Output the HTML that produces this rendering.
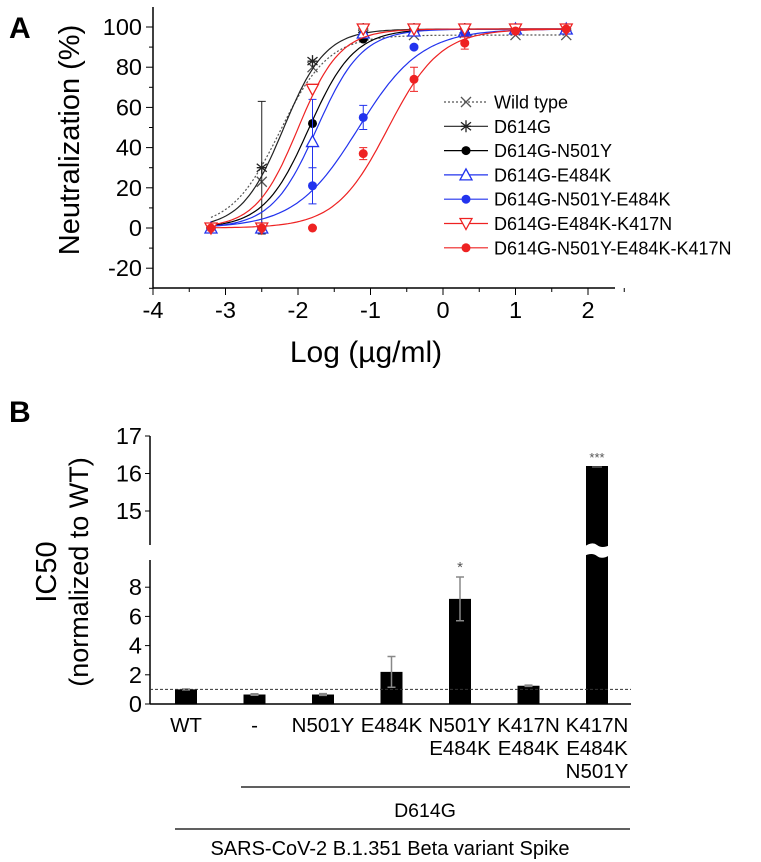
<!DOCTYPE html>
<html><head><meta charset="utf-8"><style>
body{margin:0;background:#fff;}
svg{display:block;font-family:"Liberation Sans",Arial,sans-serif;}
</style></head><body>
<svg id="c" width="761" height="862" viewBox="0 0 761 862"></svg>
<script>
const NS="http://www.w3.org/2000/svg";
const svg=document.getElementById('c');
// ---- Panel A data ----
const xDoses=[-3.2,-2.5,-1.8,-1.1,-0.4,0.3,1,1.7];
const seriesNames=["Wild type","D614G","D614G-N501Y","D614G-E484K","D614G-N501Y-E484K","D614G-E484K-K417N","D614G-N501Y-E484K-K417N"];
const wtVals=[0,23,80,96,96,97,96,96];
const d614gVals=[0,30,83,99,99,99,99,99];
const n501yVals=[0,0,52,94,99,99,99,99];
const e484kVals=[0,0,43,97,98,98,99,99];
const n501yE484kVals=[0,0,21,55,90,97,98,99];
const e484kK417nVals=[0,0,69,99,99,99,99,99];
const tripleVals=[0,0,0,37,74,92,98,99];
const errA=[[1,1,33],[3,2,21],[4,2,9],[4,3,6],[6,3,3],[6,4,6],[6,5,3]];
const fitEC50=[-2.25,-2.2,-1.85,-1.74,-1.17,-2.0,-0.76];
const fitHill=[1.3,1.5,1.4,1.4,1.0,1.5,1.2];
const fitTop=[96,99,99,99,99,99,99];
const xTicksA=[-4,-3,-2,-1,0,1,2];
const yTicksA=[-20,0,20,40,60,80,100];
// ---- Panel B data ----
const barCats=[["WT"],["-"],["N501Y"],["E484K"],["N501Y","E484K"],["K417N","E484K"],["K417N","E484K","N501Y"]];
const barVals=[1.0,0.65,0.65,2.2,7.2,1.25,16.2];
const barErr=[0.03,0.05,0.06,1.05,1.5,0.04,0.02];
const barStars=["","","","","*","","***"];
const yTicksBLow=[0,2,4,6,8];
const yTicksBHigh=[15,16,17];

const vals=[wtVals,d614gVals,n501yVals,e484kVals,n501yE484kVals,e484kK417nVals,tripleVals];
const colors=["#555","#222","#000","#2233ee","#2233ee","#ee2222","#ee2222"];
function el(t,a,p){const e=document.createElementNS(NS,t);for(const k in a)e.setAttribute(k,a[k]);(p||svg).appendChild(e);return e;}
function tx(x,y,s,a,p){const e=el('text',Object.assign({x:x,y:y},a),p);e.textContent=s;return e;}
const ax=v=>153+(v+4)*72.5;
const ay=v=>228-v*2.01;
let g=el('g',{});


tx(9,38,"A",{'font-size':30,'font-weight':'bold'},g);
el('line',{x1:153,y1:7,x2:153,y2:288,stroke:'#000','stroke-width':1.5},g);
el('line',{x1:153,y1:288,x2:615,y2:288,stroke:'#000','stroke-width':1.5},g);
for(let v=-30;v<=110;v+=10){const y=ay(v);if(y<7)continue;el('line',{x1:v%20===0?146:149,y1:y,x2:153,y2:y,stroke:'#000'},g);}
yTicksA.forEach(v=>{const t=tx(142,ay(v)+8,String(v),{'font-size':23.5,'text-anchor':'end'},g);});
for(let v=-4;v<=2.51;v+=0.5){const x=ax(v);el('line',{x1:x,y1:288,x2:x,y2:Number.isInteger(v)?295:292,stroke:'#000'},g);}
xTicksA.forEach(v=>{const t=tx(ax(v),318,String(v),{'font-size':23.5,'text-anchor':'middle'},g);});
let yt=tx(0,0,"Neutralization (%)",{'font-size':29,'text-anchor':'middle',transform:'translate(79,140) rotate(-90)'},g);

let xt=tx(366,362,"Log (µg/ml)",{'font-size':30,'text-anchor':'middle'},g);

function marker(i,x,y,p){const c=colors[i];
 if(i===0){el('path',{d:`M${x-5} ${y-5}L${x+5} ${y+5}M${x-5} ${y+5}L${x+5} ${y-5}`,stroke:c,'stroke-width':1.3,fill:'none'},p);}
 else if(i===1){el('path',{d:`M${x-5} ${y-4}L${x+5} ${y+4}M${x-5} ${y+4}L${x+5} ${y-4}M${x} ${y-6}L${x} ${y+6}M${x-5} ${y}L${x+5} ${y}`,stroke:c,'stroke-width':1.3,fill:'none'},p);}
 else if(i===3){el('path',{d:`M${x} ${y-6}L${x+6} ${y+5}L${x-6} ${y+5}Z`,stroke:c,'stroke-width':1.3,fill:'#fff'},p);}
 else if(i===5){el('path',{d:`M${x} ${y+6}L${x+6} ${y-5}L${x-6} ${y-5}Z`,stroke:c,'stroke-width':1.3,fill:'#fff'},p);}
 else el('circle',{cx:x,cy:y,r:4.5,fill:c},p);}
vals.forEach((arr,i)=>{
 const sg=el('g',{},g);
 
 
 let d='';for(let k=0;k<=120;k++){const x=-3.2+k*(4.9/120);const y=fitTop[i]/(1+Math.pow(10,(fitEC50[i]-x)*fitHill[i]));d+=(k?'L':'M')+ax(x).toFixed(1)+' '+ay(y).toFixed(1);}
 el('path',{d:d,stroke:colors[i],'stroke-width':1.2,fill:'none','stroke-dasharray':i===0?'2,2':'none'},sg);
 errA.filter(e=>e[0]===i).forEach(e=>{const x=ax(xDoses[e[1]]),y1=ay(arr[e[1]]-e[2]),y2=ay(arr[e[1]]+e[2]);
  el('path',{d:`M${x} ${y1}L${x} ${y2}M${x-4} ${y1}L${x+4} ${y1}M${x-4} ${y2}L${x+4} ${y2}`,stroke:colors[i],'stroke-width':1},sg);});
 arr.forEach((v,k)=>marker(i,ax(xDoses[k]),ay(v),sg));
});
const lg=el('g',{},g);

seriesNames.forEach((n,i)=>{const y=102+i*24.3;
 const le=el('g',{},lg);
 
 el('line',{x1:444,y1:y,x2:488,y2:y,stroke:colors[i],'stroke-width':1.2,'stroke-dasharray':i===0?'2,2':'none'},le);
 marker(i,466,y,le);
 tx(494,y+6.5,n,{'font-size':18},le);});
// ---- Panel B ----
const gb=el('g',{});

tx(9,422,"B",{'font-size':30,'font-weight':'bold'},gb);
const byL=v=>704-v*14.6;
const byH=v=>436+(17-v)*37.5;
const bx=i=>186+i*68.5;
el('line',{x1:150,y1:436,x2:150,y2:545,stroke:'#000','stroke-width':1.5},gb);
el('line',{x1:150,y1:560,x2:150,y2:704,stroke:'#000','stroke-width':1.5},gb);
el('line',{x1:150,y1:704,x2:631,y2:704,stroke:'#000','stroke-width':1.5},gb);
yTicksBHigh.forEach(v=>{el('line',{x1:145,y1:byH(v),x2:150,y2:byH(v),stroke:'#000'},gb);const t=tx(142,byH(v)+8,String(v),{'font-size':23.5,'text-anchor':'end'},gb);});
yTicksBLow.forEach(v=>{el('line',{x1:145,y1:byL(v),x2:150,y2:byL(v),stroke:'#000'},gb);const t=tx(142,byL(v)+8,String(v),{'font-size':23.5,'text-anchor':'end'},gb);});
let bt=tx(0,0,"IC50",{'font-size':29,'text-anchor':'middle',transform:'translate(56,572) rotate(-90)'},gb);

let bt2=tx(0,0,"(normalized to WT)",{'font-size':27,'text-anchor':'middle',transform:'translate(88,572) rotate(-90)'},gb);

barVals.forEach((v,i)=>{const x=bx(i);
 const bg=el('g',{},gb);
 
 if(v>10){const top=byH(v);
  el('rect',{x:x-11,y:top,width:22,height:704-top,fill:'#000'},bg);
  el('path',{d:`M${x-13} 547 Q${x-5} 541 ${x} 545 T${x+13} 545 L${x+13} 555 Q${x+5} 560 ${x} 556 T${x-13} 556Z`,fill:'#fff'},bg);
  el('line',{x1:x-5,y1:top+1,x2:x+5,y2:top+1,stroke:'#888'},bg);
  tx(x,top-4,barStars[i],{'font-size':13,'text-anchor':'middle',fill:'#555'},bg);
 } else {const top=byL(v);
  el('rect',{x:x-11,y:top,width:22,height:704-top,fill:'#000'},bg);
  const y1=byL(v-barErr[i]),y2=byL(v+barErr[i]);
  el('path',{d:`M${x} ${y1}L${x} ${y2}M${x-4} ${y1}L${x+4} ${y1}M${x-4} ${y2}L${x+4} ${y2}`,stroke:'#888','stroke-width':1.5},bg);
  if(barStars[i])tx(x,y2-5,barStars[i],{'font-size':15,'text-anchor':'middle',fill:'#555'},bg);}
 barCats[i].forEach((s,k)=>{const t=tx(x,732+k*23,s,{'font-size':20.5,'text-anchor':'middle'},gb);});
});
el('line',{x1:150,y1:byL(1),x2:631,y2:byL(1),stroke:'#333','stroke-dasharray':'3,2','stroke-width':1},gb);
el('line',{x1:241,y1:787,x2:630,y2:787,stroke:'#000','stroke-width':1.2},gb);
tx(425,817,"D614G",{'font-size':19.5,'text-anchor':'middle'},gb);
el('line',{x1:175,y1:829,x2:630,y2:829,stroke:'#000','stroke-width':1.2},gb);
tx(390,855,"SARS-CoV-2 B.1.351 Beta variant Spike",{'font-size':20,'text-anchor':'middle'},gb);
</script>
</body></html>
